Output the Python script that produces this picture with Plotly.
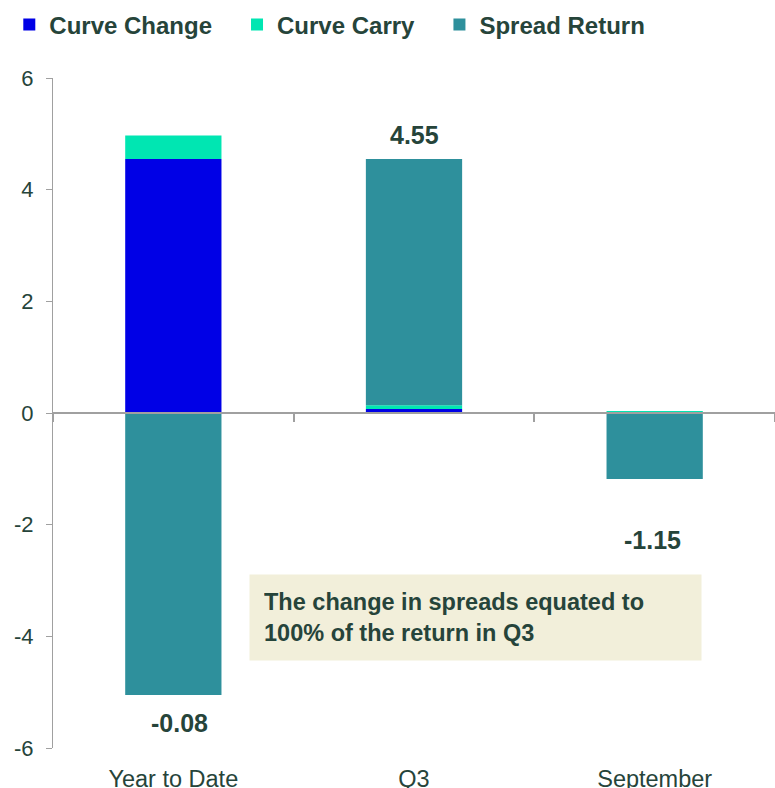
import plotly.graph_objects as go

categories = ["Year to Date", "Q3", "September"]
curve_change = [4.55, 0.07, 0.0]
curve_carry = [0.42, 0.07, 0.03]
spread_return = [-5.05, 4.41, -1.18]
total_labels = ["-0.08", "4.55", "-1.15"]
y_ticks = [-6, -4, -2, 0, 2, 4, 6]
y_tick_text = ["-6", "-4", "-2", "0", "2", "4", "6"]
note_text = "The change in spreads equated to<br>100% of the return in Q3"

FONT = "Liberation Sans, Arial, sans-serif"
TXT = "#26443A"
GRAY = "#A0A0A0"

fig = go.Figure()
series = [
    ("Curve Change", curve_change, "#0000E6"),
    ("Curve Carry", curve_carry, "#00E6B2"),
    ("Spread Return", spread_return, "#2E909C"),
]
for name, vals, col in series:
    fig.add_trace(go.Bar(x=categories, y=vals, name="<b>%s</b>&nbsp;&nbsp;&nbsp;" % name,
                         marker_color=col, marker_line_width=0, width=0.4))

# invisible trace to carry the zero-line axis with boundary ticks
fig.add_trace(go.Scatter(x=categories, y=[0, 0, 0], xaxis="x2", mode="lines",
                         line=dict(width=0), showlegend=False, hoverinfo="skip"))

# total labels placed relative to the bar ends
shifts = [-28, 24, -61]
xshifts = [6, 0, -2]
for i, cat in enumerate(categories):
    vals = (curve_change[i], curve_carry[i], spread_return[i])
    pos = sum(v for v in vals if v > 0)
    neg = sum(v for v in vals if v < 0)
    yv = pos if shifts[i] > 0 else neg
    fig.add_annotation(x=cat, y=yv, text="<b>%s</b>" % total_labels[i], showarrow=False,
                       yshift=shifts[i], xshift=xshifts[i],
                       font=dict(family=FONT, size=25, color=TXT))

fig.add_annotation(xref="paper", yref="paper", x=0.585, y=0.195, xanchor="center", yanchor="middle",
                   text="<b>%s</b>" % note_text, showarrow=False, align="left",
                   bgcolor="#F2EFDA", borderpad=14, width=423, height=57,
                   font=dict(family=FONT, size=23.5, color=TXT))

fig.update_layout(
    width=775, height=788,
    margin=dict(l=53, r=0, t=78, b=40, autoexpand=False),
    barmode="relative",
    plot_bgcolor="white", paper_bgcolor="white",
    font=dict(family=FONT, color=TXT),
    showlegend=True,
    legend=dict(orientation="h", xref="container", yref="container", x=0.012, y=0.997,
                xanchor="left", yanchor="top",
                font=dict(family=FONT, size=24, color=TXT), traceorder="normal"),
    xaxis=dict(range=[-0.5, 2.5], showline=False, ticks="", showgrid=False, automargin=False,
               tickfont=dict(family=FONT, size=23.5, color=TXT), ticklabelstandoff=14),
    xaxis2=dict(overlaying="x", matches="x", anchor="free", position=0.5, side="bottom",
                showline=True, linecolor=GRAY, linewidth=2, ticks="outside", ticklen=8,
                tickcolor=GRAY, tickwidth=2, tickson="boundaries", showticklabels=False,
                showgrid=False, automargin=False),
    yaxis=dict(range=[-6, 6], tickvals=y_ticks, ticktext=y_tick_text, showline=True,
               linecolor=GRAY, linewidth=1, automargin=False,
               ticks="outside", ticklen=6, tickcolor=GRAY, showgrid=False, zeroline=False,
               tickfont=dict(family=FONT, size=22, color=TXT), ticklabelstandoff=8),
)

fig.write_html("out.html", config={"displayModeBar": False},
               post_script="document.body.style.margin='0';document.body.style.overflow='hidden';")
